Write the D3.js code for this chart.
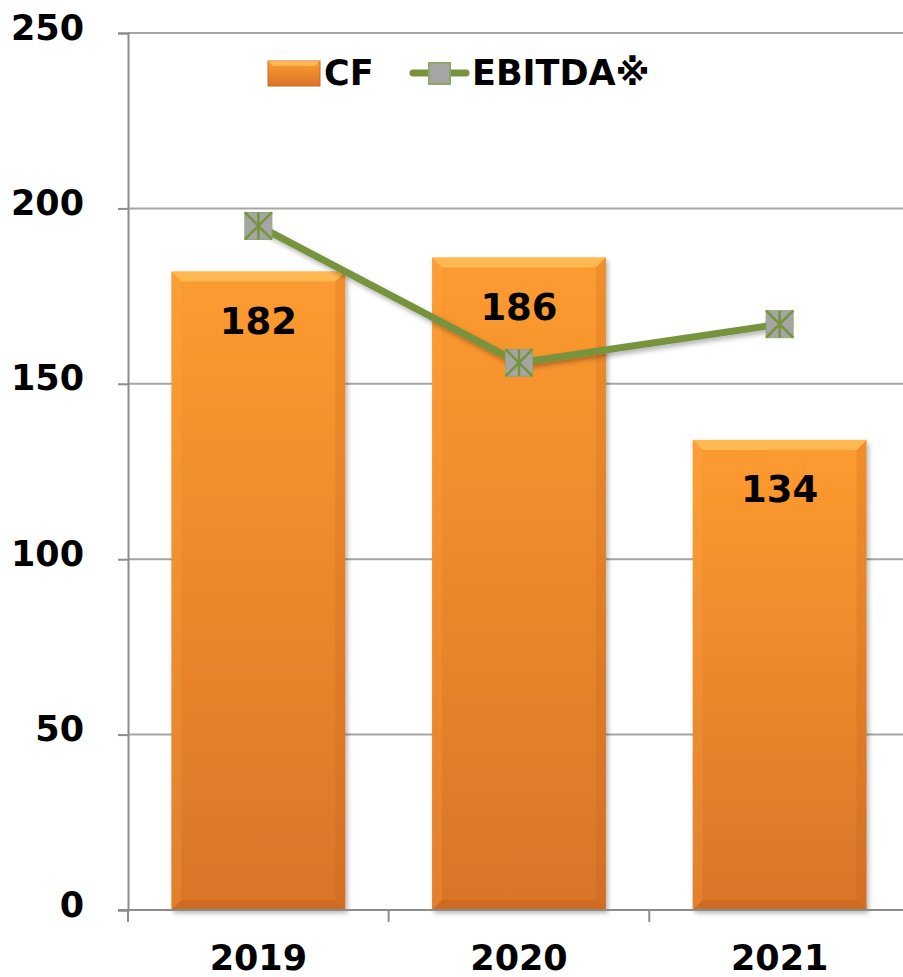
<!DOCTYPE html>
<html>
<head>
<meta charset="utf-8">
<script src="https://cdn.jsdelivr.net/npm/d3@7"></script>
<style>
  body { margin: 0; background: #fff; }
  svg { display: block; font-family: "DejaVu Sans", Verdana, sans-serif; font-weight: bold; }
</style>
</head>
<body>
<svg width="903" height="977"></svg>
<script>
const years = ["2019", "2020", "2021"];
const cf = [182, 186, 134];
const ebitda = [195, 156, 167];
const yTicks = [0, 50, 100, 150, 200, 250];

const margin = { top: 33, right: -7, bottom: 67, left: 128 };
const width = 903, height = 977;

const svg = d3.select("svg");

const x = d3.scaleBand()
  .domain(years)
  .range([margin.left, width - margin.right])
  .paddingInner(0.333)
  .paddingOuter(0.1667);

const y = d3.scaleLinear()
  .domain([0, 250])
  .range([height - margin.bottom, margin.top]);

const defs = svg.append("defs");
const grad = defs.append("linearGradient")
  .attr("id", "barGrad")
  .attr("x1", 0).attr("y1", 0).attr("x2", 0).attr("y2", 1);
grad.append("stop").attr("offset", "0%").attr("stop-color", "#FD9B30");
grad.append("stop").attr("offset", "100%").attr("stop-color", "#DA7428");

const shadow = defs.append("filter").attr("id", "shadow")
  .attr("x", "-10%").attr("y", "-10%").attr("width", "130%").attr("height", "130%");
shadow.append("feDropShadow")
  .attr("dx", 2).attr("dy", 3).attr("stdDeviation", 2.5)
  .attr("flood-color", "#000").attr("flood-opacity", 0.3);

// gridlines
svg.append("g")
  .selectAll("line")
  .data(yTicks.filter(d => d > 0))
  .join("line")
  .attr("x1", margin.left)
  .attr("x2", width)
  .attr("y1", d => y(d))
  .attr("y2", d => y(d))
  .attr("stroke", "#A6A6A6")
  .attr("stroke-width", 2);

// y axis
const yAxis = svg.append("g")
  .attr("transform", `translate(${margin.left},0)`)
  .call(d3.axisLeft(y).tickValues(yTicks).tickSize(10).tickPadding(34));
yAxis.select(".domain").attr("stroke", "#8C8C8C").attr("stroke-width", 2);
yAxis.selectAll(".tick line").attr("stroke", "#8C8C8C").attr("stroke-width", 2);
yAxis.selectAll(".tick text")
  .attr("font-size", 35)
  .attr("font-family", "DejaVu Sans")
  .attr("font-weight", "bold")
  .attr("fill", "#000")
  .attr("dy", null)
  .attr("y", -4)
  .attr("dominant-baseline", "middle");

// bars
const barData = years.map((yr, i) => ({ yr, v: cf[i] }));
const bars = svg.append("g")
  .selectAll("g")
  .data(barData)
  .join("g");

bars.append("rect")
  .attr("x", d => x(d.yr))
  .attr("y", d => y(d.v))
  .attr("width", x.bandwidth())
  .attr("height", d => y(0) - y(d.v))
  .attr("fill", "url(#barGrad)")
  .attr("filter", "url(#shadow)");

const b = 10;
// top bevel
bars.append("path")
  .attr("d", d => {
    const x0 = x(d.yr), x1 = x0 + x.bandwidth(), y0 = y(d.v);
    return `M${x0},${y0}L${x1},${y0}L${x1 - b},${y0 + b}L${x0 + b},${y0 + b}Z`;
  })
  .attr("fill", "#FFC25E")
  .attr("opacity", 0.75);
// left bevel
bars.append("path")
  .attr("d", d => {
    const x0 = x(d.yr), y0 = y(d.v), y1 = y(0);
    return `M${x0},${y0}L${x0 + b},${y0 + b}L${x0 + b},${y1 - b}L${x0},${y1}Z`;
  })
  .attr("fill", "#FFB04A")
  .attr("opacity", 0.2);
// right bevel
bars.append("path")
  .attr("d", d => {
    const x1 = x(d.yr) + x.bandwidth(), y0 = y(d.v), y1 = y(0);
    return `M${x1},${y0}L${x1 - b},${y0 + b}L${x1 - b},${y1 - b}L${x1},${y1}Z`;
  })
  .attr("fill", "#B85A18")
  .attr("opacity", 0.18);
// bottom bevel
bars.append("path")
  .attr("d", d => {
    const x0 = x(d.yr), x1 = x0 + x.bandwidth(), y1 = y(0);
    return `M${x0},${y1}L${x1},${y1}L${x1 - b},${y1 - b}L${x0 + b},${y1 - b}Z`;
  })
  .attr("fill", "#A85014")
  .attr("opacity", 0.25);

// x axis
const xAxis = svg.append("g")
  .attr("transform", `translate(0,${y(0)})`)
  .call(d3.axisBottom(x).tickSize(0).tickPadding(35));
xAxis.select(".domain").remove();
xAxis.selectAll("text")
  .attr("font-size", 35)
  .attr("font-family", "DejaVu Sans")
  .attr("font-weight", "bold")
  .attr("fill", "#000");

svg.append("line")
  .attr("x1", margin.left - 10).attr("x2", width)
  .attr("y1", y(0)).attr("y2", y(0))
  .attr("stroke", "#8C8C8C").attr("stroke-width", 2);

const step = x.step();
svg.append("g")
  .selectAll("line")
  .data(d3.range(years.length + 1))
  .join("line")
  .attr("x1", i => margin.left + i * step)
  .attr("x2", i => margin.left + i * step)
  .attr("y1", y(0))
  .attr("y2", y(0) + 12)
  .attr("stroke", "#8C8C8C").attr("stroke-width", 2);

// bar labels
svg.append("g")
  .selectAll("text")
  .data(barData)
  .join("text")
  .attr("x", d => x(d.yr) + x.bandwidth() / 2)
  .attr("y", d => y(d.v) + 62)
  .attr("text-anchor", "middle")
  .attr("font-size", 37)
  .attr("fill", "#000")
  .text(d => d.v);

// EBITDA line
const pts = years.map((yr, i) => ({ yr, v: ebitda[i] }));
const line = d3.line()
  .x(d => x(d.yr) + x.bandwidth() / 2)
  .y(d => y(d.v));

svg.append("path")
  .datum(pts)
  .attr("fill", "none")
  .attr("stroke", "#77933C")
  .attr("stroke-width", 7)
  .attr("stroke-linejoin", "round")
  .attr("filter", "url(#shadow)")
  .attr("d", line);

function marker(g, cx, cy, s) {
  g.append("rect")
    .attr("x", cx - s / 2).attr("y", cy - s / 2)
    .attr("width", s).attr("height", s)
    .attr("fill", "#A5A5A5")
    .attr("stroke", "#8FA86A").attr("stroke-width", 1);
  const h = s / 2;
  g.append("path")
    .attr("d", `M${cx - h},${cy - h}L${cx + h},${cy + h}M${cx + h},${cy - h}L${cx - h},${cy + h}M${cx},${cy - h}L${cx},${cy + h}`)
    .attr("stroke", "#77933C").attr("stroke-width", 2.5);
}

const mk = svg.append("g");
pts.forEach(d => marker(mk, x(d.yr) + x.bandwidth() / 2, y(d.v), 27));

// legend
const lg = svg.append("g");
lg.append("rect")
  .attr("x", 268).attr("y", 61).attr("width", 52).attr("height", 25)
  .attr("fill", "url(#barGrad)")
  .attr("stroke", "#C96A1E").attr("stroke-width", 1);
lg.append("path")
  .attr("d", "M268,61L320,61L315,66L273,66Z")
  .attr("fill", "#FFC25E").attr("opacity", 0.75);
lg.append("text")
  .attr("x", 324).attr("y", 85)
  .attr("font-size", 35)
  .attr("fill", "#000")
  .text("CF");
lg.append("line")
  .attr("x1", 413).attr("x2", 466)
  .attr("y1", 73).attr("y2", 73)
  .attr("stroke", "#77933C").attr("stroke-width", 7)
  .attr("stroke-linecap", "round");
lg.append("rect")
  .attr("x", 429).attr("y", 63).attr("width", 21).attr("height", 21)
  .attr("fill", "#A5A5A5")
  .attr("stroke", "#8FA86A").attr("stroke-width", 2);
lg.append("text")
  .attr("x", 472).attr("y", 85)
  .attr("font-size", 35)
  .attr("fill", "#000")
  .text("EBITDA※");
</script>
</body>
</html>
